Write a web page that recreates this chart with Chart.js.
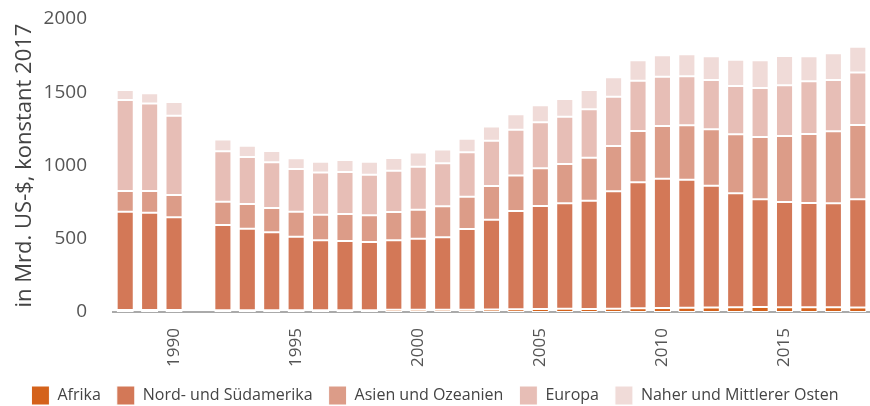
<!DOCTYPE html>
<html lang="de">
<head>
<meta charset="UTF-8">
<title>Ausgaben nach Region</title>
<style>
  body { margin: 0; background: #fff; }
  #wrap { width: 870px; height: 406px; }
</style>
</head>
<body>
<div id="wrap"><canvas id="chart" width="870" height="406"></canvas></div>
<script src="https://cdn.jsdelivr.net/npm/chart.js"></script>
<script>
const years = ['1988','1989','1990','1991','1992','1993','1994','1995','1996','1997','1998','1999','2000',
  '2001','2002','2003','2004','2005','2006','2007','2008','2009','2010','2011','2012','2013','2014',
  '2015','2016','2017','2018'];

// Werte je Region (Mrd. US-$, konstant 2017), 1991 fehlt
const afrika   = [14,14,13,null,12,12,12,12,12,12,12,16,15,15,16,17,18,20,22,20,23,25,27,29,30,33,34,32,32,32,30];
const amerika  = [671,664,633,null,582,557,532,502,477,473,466,473,485,495,551,613,671,704,720,740,801,860,883,874,832,777,735,719,712,710,739];
const asien    = [141,148,153,null,159,168,166,171,175,184,182,194,198,211,220,230,242,257,268,293,309,350,360,371,385,403,426,450,471,491,507];
const europa   = [621,598,541,null,344,321,312,291,289,287,277,282,294,294,303,309,313,314,323,331,337,344,336,335,337,330,334,346,360,351,358];
const nahost   = [68,69,93,null,81,77,77,73,73,82,89,86,96,95,93,98,105,116,121,131,132,139,146,150,161,179,189,200,170,182,177];

const yTicks = [0, 500, 1000, 1500, 2000];

const FONT = "'Open Sans', 'Noto Sans', sans-serif";

function ds(label, data, color) {
  return {
    label: label,
    data: data,
    backgroundColor: color,
    borderColor: '#ffffff',
    borderWidth: 1,
    borderSkipped: false,
    barPercentage: 0.7,
    categoryPercentage: 1.0
  };
}

// Legende flacher machen, damit sie ganz unten sitzt
const legendHeight = {
  id: 'legendHeight',
  beforeLayout(chart) {
    const lg = chart.legend;
    if (lg && !lg._patched) {
      const fit = Object.getPrototypeOf(lg).fit;
      lg.fit = function () { fit.call(this); this.height = 36; };
      lg._patched = true;
    }
  }
};

const ctx = document.getElementById('chart').getContext('2d');
new Chart(ctx, {
  type: 'bar',
  data: {
    labels: years,
    datasets: [
      ds('Afrika', afrika, '#d4621b'),
      ds('Nord- und Südamerika', amerika, '#d37857'),
      ds('Asien und Ozeanien', asien, '#dc9c88'),
      ds('Europa', europa, '#e7beb6'),
      ds('Naher und Mittlerer Osten', nahost, '#f0dbd8')
    ]
  },
  plugins: [legendHeight],
  options: {
    responsive: false,
    animation: false,
    layout: { padding: { top: 19, right: 0, left: 0, bottom: 0 } },
    plugins: {
      tooltip: { enabled: false },
      legend: {
        position: 'bottom',
        labels: {
          boxWidth: 18,
          boxHeight: 19,
          padding: 16,
          color: '#444',
          font: { family: FONT, size: 16 }
        }
      }
    },
    scales: {
      x: {
        stacked: true,
        grid: { display: false },
        border: { display: true, color: '#aaaaaa', width: 2 },
        afterFit: function (s) {
          s.height = 58;
          s.paddingLeft = 0;
          s.paddingRight = 0;
        },
        ticks: {
          autoSkip: false,
          maxRotation: 90,
          minRotation: 90,
          padding: 8,
          color: '#555',
          font: { family: FONT, size: 17 },
          callback: function (v, i) {
            const y = Number(years[i]);
            return y % 5 === 0 ? years[i] : '';
          }
        }
      },
      y: {
        stacked: true,
        min: 0,
        max: 2000,
        grid: { display: false },
        border: { display: false },
        afterBuildTicks: function (s) { s.ticks = yTicks.map(v => ({ value: v })); },
        afterFit: function (s) {
          s.width = 113;
          s.paddingTop = 0;
          s.paddingBottom = 0;
        },
        ticks: {
          color: '#555',
          padding: 18,
          font: { family: FONT, size: 19 },
          callback: function (v) { return String(v); }
        },
        title: {
          display: true,
          text: 'in Mrd. US-$, konstant 2017',
          color: '#444',
          padding: { top: 12, bottom: 0 },
          font: { family: FONT, size: 22 }
        }
      }
    }
  }
});
</script>
</body>
</html>
